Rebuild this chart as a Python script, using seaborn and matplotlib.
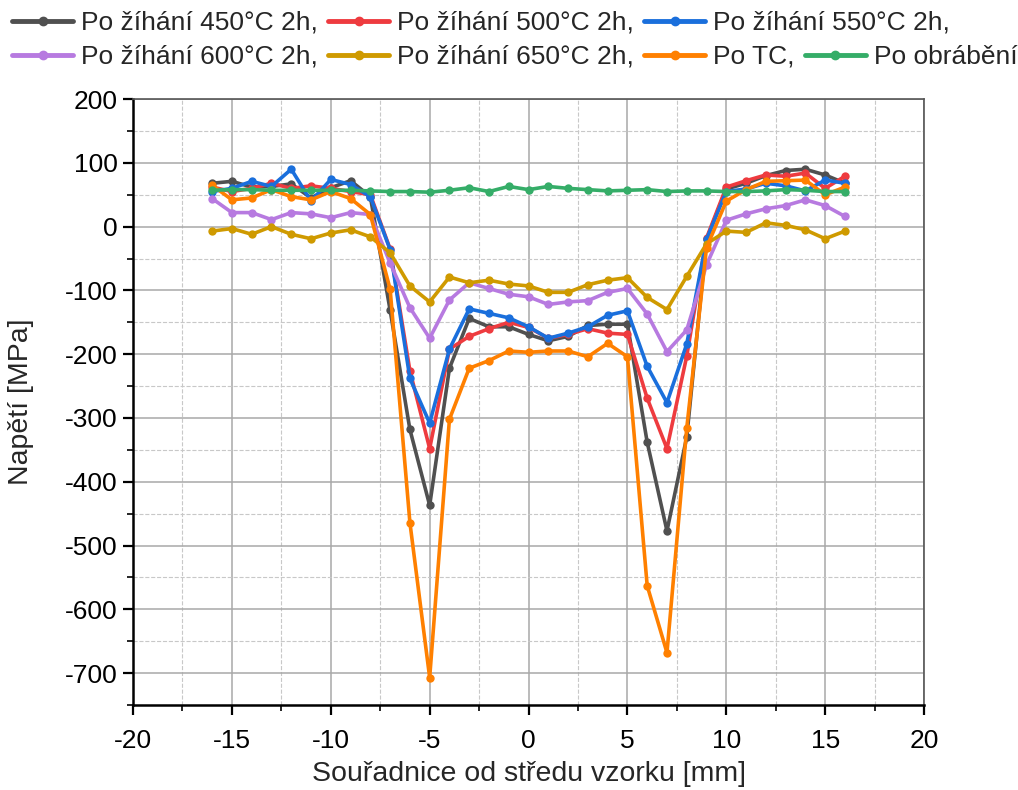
import numpy as np
import pandas as pd
import matplotlib
matplotlib.use("Agg")
import matplotlib.pyplot as plt
import seaborn as sns
from matplotlib.ticker import MultipleLocator
from matplotlib.lines import Line2D

# Souřadnice měřených bodů [mm]
x_mm = list(range(-16, 17))

# Napětí [MPa] pro jednotlivé stavy
s450 = [68, 71, 62, 63, 67, 45, 61, 72, 47, -131, -318, -437, -222, -144, -157, -157, -169,
        -179, -172, -155, -153, -153, -338, -477, -330, -20, 59, 68, 80, 88, 90, 81, 68]
s500 = [62, 55, 60, 68, 60, 64, 60, 55, 50, -35, -226, -348, -192, -172, -160, -150, -158,
        -175, -169, -160, -167, -169, -269, -348, -203, -18, 62, 72, 81, 79, 84, 60, 79]
s550 = [55, 60, 71, 63, 90, 40, 74, 66, 47, -36, -238, -308, -192, -129, -136, -143, -157,
        -175, -167, -157, -139, -132, -219, -276, -184, -20, 55, 59, 68, 64, 56, 73, 68]
s600 = [44, 22, 22, 11, 22, 20, 14, 22, 19, -57, -127, -175, -115, -88, -97, -106, -110,
        -122, -118, -116, -103, -97, -137, -196, -162, -60, 10, 20, 28, 33, 42, 33, 16]
s650 = [-7, -3, -12, 0, -12, -19, -10, -5, -16, -41, -93, -118, -79, -88, -84, -90, -93,
        -103, -103, -91, -84, -80, -111, -130, -78, -27, -7, -9, 6, 2, -5, -19, -7]
s_tc = [65, 42, 45, 58, 47, 42, 55, 44, 19, -98, -464, -707, -302, -222, -210, -195, -197,
        -195, -195, -204, -183, -204, -563, -668, -316, -33, 40, 58, 71, 72, 73, 50, 62]
s_obr = [57, 58, 58, 57, 57, 57, 57, 57, 56, 55, 55, 54, 57, 61, 55, 63, 58,
         63, 60, 58, 56, 57, 58, 55, 56, 56, 55, 55, 56, 58, 57, 55, 55]

labels = ["Po žíhání 450°C 2h,", "Po žíhání 500°C 2h,", "Po žíhání 550°C 2h,",
          "Po žíhání 600°C 2h,", "Po žíhání 650°C 2h,", "Po TC,", "Po obrábění"]
colors = ["#505050", "#ee3b3f", "#1a6fdc", "#b77ae0", "#cf9a00", "#ff8000", "#35ad68"]
series = [s450, s500, s550, s600, s650, s_tc, s_obr]

df = pd.DataFrame({
    "x": x_mm * len(series),
    "y": [v for s in series for v in s],
    "stav": [lab for lab, s in zip(labels, series) for _ in s],
})

sns.set_style("white")
plt.rcParams["font.family"] = ["Liberation Sans", "DejaVu Sans"]
plt.rcParams["axes.unicode_minus"] = False

fig = plt.figure(figsize=(10.18, 7.9), dpi=100)
ax = fig.add_axes([0.1307, 0.1076, 0.777, 0.767])

sns.lineplot(data=df, x="x", y="y", hue="stav", hue_order=labels, palette=colors,
             marker="o", markersize=6, markeredgewidth=0, linewidth=2.6,
             legend=False, ax=ax, sort=False)

ax.set_xlim(-20, 20)
ax.set_ylim(-750, 200)
ax.xaxis.set_major_locator(MultipleLocator(5))
ax.xaxis.set_minor_locator(MultipleLocator(2.5))
ax.yaxis.set_major_locator(MultipleLocator(100))
ax.yaxis.set_minor_locator(MultipleLocator(50))
ax.grid(which="major", color="#a8a8a8", linestyle="-", linewidth=1.1)
ax.grid(which="minor", color="#c8c8c8", linestyle="--", linewidth=0.8)
ax.set_axisbelow(True)

for side in ["left", "bottom"]:
    ax.spines[side].set_color("black")
    ax.spines[side].set_linewidth(1.8)
for side in ["top", "right"]:
    ax.spines[side].set_color("#555555")
    ax.spines[side].set_linewidth(1.2)

ax.tick_params(which="major", direction="out", length=7, width=1.6, labelsize=19,
               left=True, bottom=True, colors="black", pad=4)
ax.tick_params(axis="x", which="major", pad=10)
ax.tick_params(which="minor", direction="out", length=4, width=1.4, left=True, bottom=True)
ax.set_xlabel("Souřadnice od středu vzorku [mm]", fontsize=20.5, labelpad=6)
ax.set_ylabel("Napětí [MPa]", fontsize=20.5, labelpad=22)

handles = [Line2D([0], [0], color=c, linewidth=3.5, marker="o", markersize=6) for c in colors]
leg1 = fig.legend(handles[:3], labels[:3], loc="center left", bbox_to_anchor=(0.012, 0.971),
                  ncol=3, frameon=False, fontsize=19, handlelength=2.3,
                  handletextpad=0.3, columnspacing=0.4, borderaxespad=0, borderpad=0)
leg2 = fig.legend(handles[3:], labels[3:], loc="center left", bbox_to_anchor=(0.012, 0.928),
                  ncol=4, frameon=False, fontsize=19, handlelength=2.3,
                  handletextpad=0.3, columnspacing=0.4, borderaxespad=0, borderpad=0)

fig.savefig("out.png", dpi=100)
